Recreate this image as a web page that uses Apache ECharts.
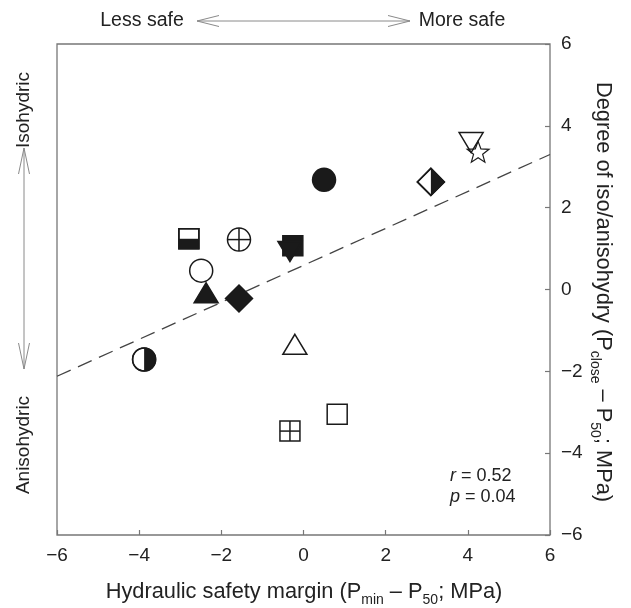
<!DOCTYPE html>
<html>
<head>
<meta charset="utf-8">
<script src="https://cdn.jsdelivr.net/npm/echarts@6/dist/echarts.min.js"></script>
<style>
html,body{margin:0;padding:0;background:#fff;}
#chart{width:631px;height:608px;}
</style>
</head>
<body>
<div id="chart"></div>
<script>
// Hydraulic safety margin (x) and degree of iso/anisohydry (y) per species
const xValues = [0.50, -2.79, -1.57, -0.26, -0.33, -2.49, -2.37, -1.57, 4.08, 4.25, 3.10, -0.21, 0.82, -0.33, -3.88];
const yValues = [2.68, 1.24, 1.22, 1.07, 0.93, 0.46, -0.08, -0.22, 3.59, 3.34, 2.63, -1.34, -3.05, -3.46, -1.71];
const markerKinds = ['circleFilled', 'squareHalfBottom', 'circlePlus', 'squareFilled', 'triDownFilled',
  'circleOpen', 'triFilled', 'diamondFilled', 'triDownOpen', 'starOpen', 'diamondHalfRight',
  'triOpen', 'squareOpen', 'squarePlus', 'circleHalfRight'];
// Regression line end points
const fitX = [-6, 6];
const fitY = [-2.12, 3.30];
const axisTicks = [-6, -4, -2, 0, 2, 4, 6];
const statLabels = ['0.52', '0.04'];

const INK = '#1a1a1a';
const LW = 1.5;

function renderMarker(params, api) {
  const p = api.coord([api.value(0), api.value(1)]);
  const cx = p[0], cy = p[1];
  const kind = markerKinds[params.dataIndex];
  const R = 11.5, S = 10, TW = 12, TH = 10, D = 13.5;
  const c = [];
  const open = {fill: 'none', stroke: INK, lineWidth: LW};
  const solid = {fill: INK, stroke: INK, lineWidth: LW};
  const white = {fill: '#fff', stroke: INK, lineWidth: LW};
  const line = (x1, y1, x2, y2) => ({type: 'line', shape: {x1, y1, x2, y2}, style: {stroke: INK, lineWidth: LW}});
  const sq = (st) => ({type: 'rect', shape: {x: cx - S, y: cy - S, width: 2 * S, height: 2 * S}, style: st});
  const circ = (st) => ({type: 'circle', shape: {cx, cy, r: R}, style: st});
  const up = [[cx, cy - TH], [cx + TW, cy + TH], [cx - TW, cy + TH]];
  const down = [[cx - TW, cy - TH], [cx + TW, cy - TH], [cx, cy + TH]];
  const dia = [[cx, cy - D], [cx + D, cy], [cx, cy + D], [cx - D, cy]];
  switch (kind) {
    case 'circleFilled': c.push(circ(solid)); break;
    case 'circleOpen': c.push(circ(open)); break;
    case 'circlePlus':
      c.push(circ(open), line(cx - R, cy, cx + R, cy), line(cx, cy - R, cx, cy + R)); break;
    case 'circleHalfRight':
      c.push(circ(white));
      c.push({type: 'sector', shape: {cx, cy, r0: 0, r: R, startAngle: -Math.PI / 2, endAngle: Math.PI / 2, clockwise: true}, style: {fill: INK}});
      c.push(circ(open)); break;
    case 'squareFilled': c.push(sq(solid)); break;
    case 'squareOpen': c.push(sq(open)); break;
    case 'squarePlus':
      c.push(sq(open), line(cx - S, cy, cx + S, cy), line(cx, cy - S, cx, cy + S)); break;
    case 'squareHalfBottom':
      c.push(sq(white));
      c.push({type: 'rect', shape: {x: cx - S, y: cy, width: 2 * S, height: S}, style: {fill: INK}});
      c.push(sq(open)); break;
    case 'triFilled': c.push({type: 'polygon', shape: {points: up}, style: solid}); break;
    case 'triOpen': c.push({type: 'polygon', shape: {points: up}, style: open}); break;
    case 'triDownFilled': c.push({type: 'polygon', shape: {points: down}, style: solid}); break;
    case 'triDownOpen': c.push({type: 'polygon', shape: {points: down}, style: open}); break;
    case 'diamondFilled': c.push({type: 'polygon', shape: {points: dia}, style: solid}); break;
    case 'diamondHalfRight':
      c.push({type: 'polygon', shape: {points: dia}, style: white});
      c.push({type: 'polygon', shape: {points: [[cx, cy - D], [cx + D, cy], [cx, cy + D]]}, style: {fill: INK}});
      c.push({type: 'polygon', shape: {points: dia}, style: open}); break;
    case 'starOpen': {
      const pts = [];
      for (let k = 0; k < 10; k++) {
        const r = k % 2 === 0 ? 11.5 : 4.8;
        const a = -Math.PI / 2 + k * Math.PI / 5;
        pts.push([cx + r * Math.cos(a), cy + r * Math.sin(a)]);
      }
      c.push({type: 'polygon', shape: {points: pts}, style: {fill: 'none', stroke: INK, lineWidth: 1.2}});
      break;
    }
  }
  return {type: 'group', children: c};
}

const fmt = v => (v < 0 ? '\u2212' + Math.abs(v) : String(v));
const FONT = 'Liberation Sans, Arial, sans-serif';
const axisCommon = {
  type: 'value', min: axisTicks[0], max: axisTicks[axisTicks.length - 1], interval: 2,
  axisLine: {show: false, onZero: false},
  axisTick: {show: true, inside: true, length: 5, lineStyle: {color: '#777', width: 1.2}},
  splitLine: {show: false},
  axisLabel: {fontSize: 19, color: '#222', fontFamily: FONT, formatter: fmt, margin: 11}
};

const chart = echarts.init(document.getElementById('chart'), null, {renderer: 'canvas'});
const arrowGrey = '#8a8a8a';
const titleRich = {
  a: {fontSize: 21.8, fontFamily: FONT, fill: '#222', lineHeight: 30},
  s: {fontSize: 14, fontFamily: FONT, fill: '#222', lineHeight: 16, verticalAlign: 'bottom'}
};
chart.setOption({
  animation: false,
  backgroundColor: '#fff',
  grid: {left: 57, right: 81, top: 44, bottom: 73, show: true, borderColor: '#777', borderWidth: 1.3, backgroundColor: 'transparent'},
  xAxis: Object.assign({}, axisCommon, {position: 'bottom'}),
  yAxis: Object.assign({}, axisCommon, {position: 'right'}),
  series: [
    {
      type: 'line', data: fitX.map((x, i) => [x, fitY[i]]), symbol: 'none', silent: true,
      lineStyle: {color: '#444', width: 1.3, type: [15, 8]}, z: 1
    },
    {
      type: 'custom', renderItem: renderMarker, encode: {x: 0, y: 1},
      data: xValues.map((x, i) => [x, yValues[i]]), z: 3
    }
  ],
  graphic: [
    {type: 'text', x: 142, y: 21, style: {text: 'Less safe', font: '19.5px ' + FONT, fill: '#222', align: 'center', verticalAlign: 'middle'}},
    {type: 'text', x: 462, y: 21, style: {text: 'More safe', font: '19.5px ' + FONT, fill: '#222', align: 'center', verticalAlign: 'middle'}},
    {type: 'line', shape: {x1: 197, y1: 21, x2: 410, y2: 21}, style: {stroke: arrowGrey, lineWidth: 1}},
    {type: 'polyline', shape: {points: [[219, 15.5], [197, 21], [219, 26.5]]}, style: {stroke: arrowGrey, lineWidth: 1, fill: 'none'}},
    {type: 'polyline', shape: {points: [[388, 15.5], [410, 21], [388, 26.5]]}, style: {stroke: arrowGrey, lineWidth: 1, fill: 'none'}},
    {type: 'text', x: 24, y: 110, rotation: Math.PI / 2, style: {text: 'Isohydric', font: '19px ' + FONT, fill: '#222', align: 'center', verticalAlign: 'middle'}},
    {type: 'text', x: 24, y: 445, rotation: Math.PI / 2, style: {text: 'Anisohydric', font: '19px ' + FONT, fill: '#222', align: 'center', verticalAlign: 'middle'}},
    {type: 'line', shape: {x1: 24, y1: 148, x2: 24, y2: 369}, style: {stroke: arrowGrey, lineWidth: 1}},
    {type: 'polyline', shape: {points: [[18.5, 174], [24, 148], [29.5, 174]]}, style: {stroke: arrowGrey, lineWidth: 1, fill: 'none'}},
    {type: 'polyline', shape: {points: [[18.5, 343], [24, 369], [29.5, 343]]}, style: {stroke: arrowGrey, lineWidth: 1, fill: 'none'}},
    {type: 'text', x: 304, y: 592, style: {
      text: '{a|Hydraulic safety margin (P}{s|min}{a| \u2013 P}{s|50}{a|; MPa)}',
      align: 'center', verticalAlign: 'middle', rich: titleRich
    }},
    {type: 'text', x: 603, y: 292, rotation: -Math.PI / 2, style: {
      text: '{a|Degree of iso/anisohydry (P}{s|close}{a| \u2013 P}{s|50}{a|; MPa)}',
      align: 'center', verticalAlign: 'middle', rich: titleRich
    }},
    {type: 'text', x: 450, y: 476, style: {
      text: '{i|r}{a| = ' + statLabels[0] + '}', align: 'left', verticalAlign: 'middle',
      rich: {i: {fontSize: 18, fontStyle: 'italic', fontFamily: FONT, fill: '#222'}, a: {fontSize: 18, fontFamily: FONT, fill: '#222'}}
    }},
    {type: 'text', x: 450, y: 497, style: {
      text: '{i|p}{a| = ' + statLabels[1] + '}', align: 'left', verticalAlign: 'middle',
      rich: {i: {fontSize: 18, fontStyle: 'italic', fontFamily: FONT, fill: '#222'}, a: {fontSize: 18, fontFamily: FONT, fill: '#222'}}
    }}
  ]
});
</script>
</body>
</html>
